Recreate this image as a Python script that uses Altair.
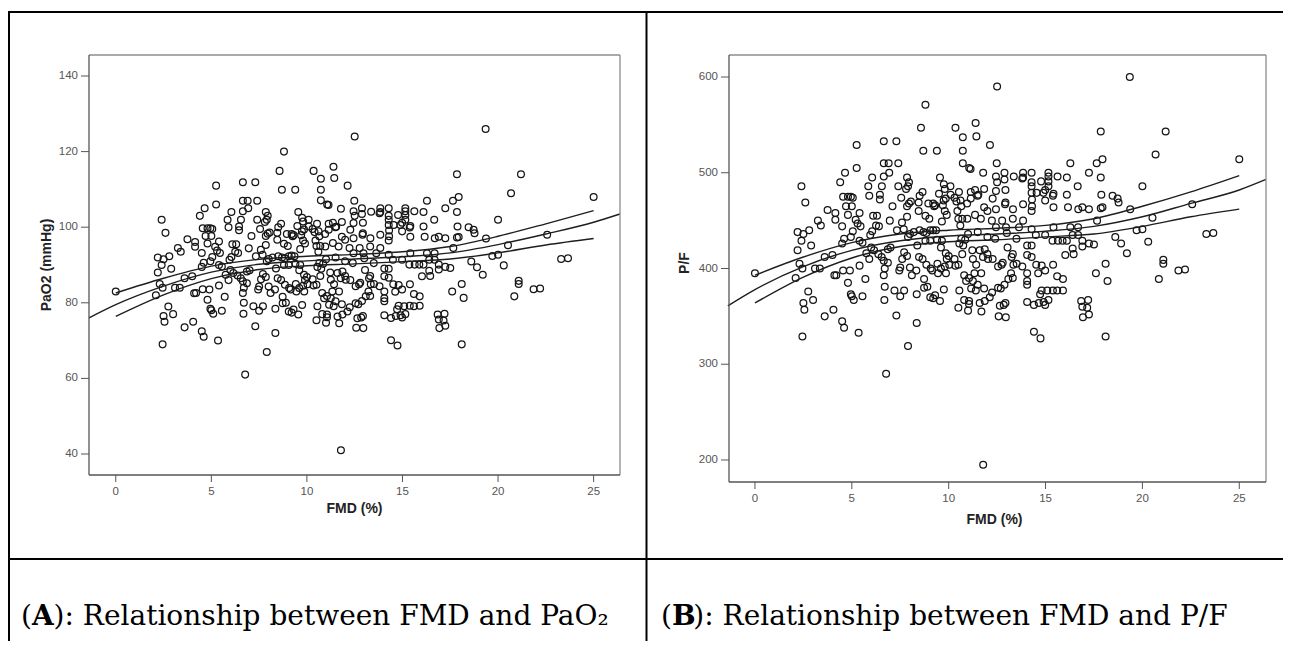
import altair as alt
import pandas as pd

# ---------------- data ----------------
fmd = [
    0.0, 2.4, 2.6, 2.2, 2.5, 2.4, 2.2, 2.9, 2.8, 3.25,
    3.4, 2.1, 2.3, 2.45, 3.1, 3.35, 2.75, 2.5, 3.0, 2.55,
    2.45, 3.6, 4.0, 3.6, 4.05, 4.5, 4.6, 5.35, 3.75, 4.15,
    4.15, 4.4, 4.65, 4.55, 4.8, 4.95, 5.05, 4.7, 5.0, 4.8,
    5.4, 5.2, 5.3, 4.5, 5.05, 4.6, 4.95, 4.5, 5.45, 5.4,
    5.55, 5.25, 5.25, 4.1, 4.2, 4.55, 4.9, 5.4, 4.95, 5.0,
    5.1, 5.55, 4.8, 5.7, 5.75, 6.0, 5.9, 5.85, 6.05, 5.9,
    6.45, 6.45, 6.65, 7.3, 6.65, 6.9, 7.4, 6.93, 6.65, 6.55,
    7.4, 7.55, 7.85, 7.1, 7.85, 5.95, 6.05, 6.1, 6.3, 6.25,
    6.4, 6.96, 6.15, 6.37, 6.54, 6.86, 7.0, 6.65, 6.7, 6.65,
    6.7, 6.68, 6.86, 6.77, 7.3, 7.5, 7.7, 7.9, 8.35, 8.35,
    7.2, 7.45, 7.5, 7.6, 7.7, 7.85, 8.0, 8.1, 8.33, 7.9,
    8.0, 8.2, 7.85, 7.95, 8.05, 7.8, 7.95, 8.5, 8.45, 8.45,
    8.95, 9.2, 9.25, 9.55, 9.75, 9.8, 9.5, 9.85, 10.1, 10.3,
    10.4, 9.3, 9.7, 9.8, 9.9, 9.65, 9.0, 8.8, 8.5, 8.7,
    8.85, 9.05, 9.2, 9.35, 8.8, 9.05, 9.4, 9.65, 9.6, 9.85,
    10.0, 10.3, 8.65, 8.85, 9.15, 9.45, 9.8, 9.9, 10.35, 10.5,
    10.8, 10.55, 10.8, 10.55, 10.65, 10.75, 10.85, 10.5, 10.7, 10.6,
    10.45, 10.65, 10.95, 8.57, 8.69, 9.39, 8.8, 10.35, 10.73, 10.73,
    10.73, 11.06, 11.39, 11.43, 12.13, 11.13, 11.78, 12.48, 12.5, 9.05,
    9.2, 9.3, 9.55, 9.75, 8.9, 10.5, 11.0, 11.05, 8.38, 8.47,
    8.73, 8.73, 9.07, 9.6, 9.86, 10.03, 9.42, 10.9, 11.16, 11.25,
    11.33, 11.68, 11.5, 11.6, 11.69, 11.86, 12.12, 12.24, 12.55, 12.69,
    12.64, 12.58, 11.78, 11.25, 11.42, 11.6, 11.77, 11.86, 12.03, 12.55,
    12.73, 13.08, 13.22, 13.34, 13.25, 13.51, 13.04, 14.05, 14.05, 14.05,
    14.05, 14.05, 14.05, 14.4, 14.65, 14.9, 14.62, 14.52, 15.09, 15.39,
    15.6, 15.6, 15.9, 14.4, 14.74, 15.36, 15.88, 16.02, 16.4, 16.4,
    16.9, 16.9, 16.84, 16.9, 16.93, 17.2, 17.15, 17.24, 17.6, 18.1,
    18.2, 17.5, 18.6, 18.9, 19.2, 18.1, 19.7, 20.3, 20.85, 21.08,
    21.08, 21.86, 23.3, 17.85, 21.2, 19.35, 20.68, 25.0, 16.28, 17.64,
    17.94, 17.85, 17.24, 16.66, 20.0, 18.46, 18.72, 18.77, 17.88, 17.85,
    19.37, 22.57, 20.52, 20.0, 17.66, 23.66, 17.24, 17.94, 17.24, 22.2,
    7.9, 8.65, 10.09, 10.53, 11.14, 11.49, 12.44, 12.5, 12.88, 12.88,
    13.36, 13.84, 13.84, 14.28, 14.28, 14.77, 15.15, 15.15, 15.62, 16.1,
    9.74, 10.61, 11.14, 11.83, 12.27, 12.44, 12.91, 13.32, 13.84, 14.28,
    14.3, 14.3, 14.54, 14.89, 14.98, 15.41, 15.41, 16.16, 16.69, 16.9,
    10.96, 11.36, 11.66, 12.0, 12.23, 12.44, 12.76, 12.96, 13.31, 13.63,
    13.84, 14.28, 14.5, 14.98, 15.41, 15.64, 16.1, 16.28, 16.68, 16.68,
    11.0, 11.5, 12.0, 12.4, 13.0, 13.5, 14.28, 10.7, 11.22, 12.0,
    12.27, 12.79, 13.31, 13.8, 14.28, 14.28, 14.8, 14.98, 16.45, 11.05,
    11.4, 11.83, 12.88, 12.93, 13.31, 14.8, 14.98, 14.72, 15.15, 15.38,
    15.9, 12.84, 12.95, 11.05, 11.36, 11.53, 11.83, 12.44, 12.93, 12.93,
    14.28, 14.98, 15.15, 15.38, 16.1, 15.15, 13.8, 7.33, 7.59, 7.68,
]

pao2 = [
    83.0, 102.0, 98.5, 92.0, 91.5, 90.0, 88.0, 89.0, 92.3, 94.5,
    93.5, 82.0, 85.0, 84.0, 84.0, 84.0, 79.0, 76.5, 77.0, 75.0,
    69.0, 86.5, 87.0, 73.5, 75.0, 72.5, 71.0, 70.0, 96.8, 96.1,
    94.8, 103.0, 105.0, 99.7, 99.7, 99.7, 99.5, 97.7, 97.7, 95.7,
    96.2, 94.8, 93.8, 93.2, 92.1, 90.6, 91.0, 89.5, 93.2, 90.0,
    89.6, 111.0, 106.0, 82.5, 82.6, 83.6, 83.5, 84.6, 78.4, 78.0,
    77.1, 77.9, 80.8, 81.6, 87.4, 88.7, 86.0, 102.0, 104.0, 100.0,
    99.2, 100.2, 111.9, 111.9, 107.0, 107.0, 107.0, 105.0, 104.2, 102.0,
    102.0, 99.5, 104.0, 97.7, 97.7, 91.4, 92.1, 95.5, 95.5, 93.5,
    93.2, 94.4, 87.9, 87.2, 86.5, 88.3, 88.6, 85.7, 84.0, 82.6,
    80.0, 77.1, 85.2, 61.0, 73.8, 77.9, 79.1, 67.0, 78.4, 72.0,
    79.1, 83.5, 84.3, 86.2, 87.6, 86.8, 84.3, 82.6, 83.5, 91.0,
    91.6, 92.0, 95.3, 98.3, 98.6, 101.4, 103.0, 100.0, 98.5, 96.7,
    98.2, 98.2, 97.6, 104.0, 102.5, 101.5, 100.3, 99.4, 100.2, 99.5,
    98.7, 97.9, 97.9, 96.5, 95.7, 94.2, 95.0, 95.6, 92.3, 92.0,
    91.8, 92.3, 92.5, 92.3, 90.0, 90.0, 90.3, 90.0, 88.6, 87.4,
    86.8, 86.2, 86.0, 84.8, 83.5, 83.0, 84.5, 86.0, 84.6, 84.8,
    82.6, 79.1, 77.0, 89.5, 90.5, 89.0, 90.3, 95.0, 95.0, 93.5,
    96.5, 97.6, 98.2, 114.9, 109.9, 109.9, 120.0, 114.9, 112.8, 109.9,
    107.1, 106.0, 116.0, 113.0, 111.0, 105.9, 104.9, 107.0, 124.0, 77.7,
    77.4, 78.2, 76.9, 79.4, 80.0, 75.4, 74.7, 76.2, 89.1, 86.5,
    81.6, 79.9, 83.9, 83.9, 83.0, 84.9, 85.0, 81.2, 79.5, 81.2,
    83.0, 83.0, 80.4, 76.4, 74.6, 76.9, 77.7, 78.8, 79.9, 79.6,
    75.9, 73.4, 41.0, 86.1, 84.9, 87.9, 86.5, 88.3, 86.1, 84.4,
    84.9, 81.7, 83.0, 84.9, 86.5, 85.0, 88.7, 89.1, 87.0, 83.0,
    81.2, 80.4, 76.7, 76.0, 76.5, 76.7, 82.9, 84.9, 79.1, 84.9,
    82.3, 79.1, 81.7, 70.1, 68.7, 90.1, 90.1, 87.0, 88.5, 91.4,
    90.1, 88.8, 76.9, 75.6, 73.3, 77.1, 75.3, 73.9, 83.0, 85.0,
    81.3, 89.2, 90.9, 89.4, 87.4, 69.0, 92.4, 89.9, 81.7, 85.8,
    85.0, 83.6, 91.6, 114.0, 114.0, 126.0, 109.0, 108.0, 107.0, 107.0,
    108.0, 104.0, 105.0, 102.0, 102.0, 100.0, 99.3, 98.4, 100.2, 97.3,
    97.0, 98.0, 95.2, 92.7, 94.5, 91.8, 97.1, 97.4, 89.5, 83.8,
    102.0, 100.9, 102.0, 100.9, 100.9, 100.0, 104.2, 103.0, 105.0, 103.5,
    104.1, 105.0, 104.0, 105.0, 103.0, 103.2, 105.0, 104.2, 104.2, 104.0,
    98.9, 98.9, 99.3, 97.5, 99.3, 97.1, 98.0, 97.1, 98.0, 100.6,
    99.1, 97.6, 100.6, 100.6, 98.9, 100.3, 97.5, 97.5, 97.1, 97.5,
    94.9, 95.8, 94.9, 96.7, 94.5, 93.1, 94.5, 93.1, 94.9, 93.1,
    94.5, 92.7, 91.4, 91.4, 93.1, 90.1, 90.1, 93.1, 93.1, 91.4,
    91.5, 92.0, 91.0, 90.5, 91.8, 90.5, 96.5, 87.1, 88.0, 87.1,
    86.0, 85.3, 87.1, 84.4, 89.0, 86.6, 84.7, 83.5, 87.1, 81.8,
    79.1, 79.6, 80.5, 76.5, 81.8, 79.2, 76.1, 78.3, 77.0, 79.2,
    79.2, 76.1, 73.3, 76.9, 101.2, 100.1, 101.4, 101.1, 101.2, 98.4,
    102.0, 101.2, 102.0, 99.9, 100.2, 103.2, 103.7, 92.3, 94.0, 92.7,
]

pf = [
    395, 486, 469, 438, 436, 429, 419, 424, 440, 450,
    445, 390, 405, 400, 400, 400, 376, 364, 367, 357,
    329, 412, 414, 350, 357, 345, 338, 333, 461, 458,
    451, 490, 500, 475, 475, 475, 474, 465, 465, 456,
    458, 451, 447, 444, 439, 431, 433, 426, 444, 429,
    427, 529, 505, 393, 393, 398, 398, 403, 373, 371,
    367, 371, 385, 389, 416, 422, 410, 486, 495, 476,
    472, 477, 533, 533, 510, 510, 510, 500, 496, 486,
    486, 474, 495, 465, 465, 435, 439, 455, 455, 445,
    444, 450, 419, 415, 412, 420, 422, 408, 400, 393,
    381, 367, 406, 290, 351, 371, 377, 319, 373, 343,
    377, 398, 401, 410, 417, 413, 401, 393, 398, 433,
    436, 438, 454, 468, 470, 483, 490, 476, 469, 460,
    468, 468, 465, 495, 488, 483, 478, 473, 477, 474,
    470, 466, 466, 460, 456, 449, 452, 455, 440, 438,
    437, 440, 440, 440, 429, 429, 430, 429, 422, 416,
    413, 410, 410, 404, 398, 395, 402, 410, 403, 404,
    393, 377, 367, 426, 431, 424, 430, 452, 452, 445,
    460, 465, 468, 547, 523, 523, 571, 547, 537, 523,
    510, 505, 552, 538, 529, 504, 500, 510, 590, 370,
    369, 372, 366, 378, 381, 359, 356, 363, 424, 412,
    389, 380, 400, 400, 395, 404, 405, 387, 379, 387,
    395, 395, 383, 364, 355, 366, 370, 375, 380, 379,
    361, 350, 195, 410, 404, 419, 412, 420, 410, 402,
    404, 389, 395, 404, 412, 405, 422, 424, 414, 395,
    387, 383, 365, 362, 364, 365, 395, 404, 377, 404,
    392, 377, 389, 334, 327, 429, 429, 414, 421, 435,
    429, 423, 366, 360, 349, 367, 359, 352, 395, 405,
    387, 425, 433, 426, 416, 329, 440, 428, 389, 409,
    405, 398, 436, 543, 543, 600, 519, 514, 510, 510,
    514, 495, 500, 486, 486, 476, 473, 469, 477, 463,
    462, 467, 453, 441, 450, 437, 462, 464, 426, 399,
    486, 480, 486, 480, 480, 476, 496, 490, 500, 493,
    496, 500, 495, 500, 490, 491, 500, 496, 496, 495,
    471, 471, 473, 464, 473, 462, 467, 462, 467, 479,
    472, 465, 479, 479, 471, 478, 464, 464, 462, 464,
    452, 456, 452, 460, 450, 443, 450, 443, 452, 443,
    450, 441, 435, 435, 443, 429, 429, 443, 443, 435,
    436, 438, 433, 431, 437, 431, 460, 415, 419, 415,
    410, 406, 415, 402, 424, 412, 403, 398, 415, 390,
    377, 379, 383, 364, 390, 377, 362, 373, 367, 377,
    377, 362, 349, 366, 482, 477, 483, 481, 482, 469,
    486, 482, 486, 476, 477, 491, 494, 440, 448, 441,
]

# fitted cubic curve and its 95% confidence limits
fit_x = [-1.4, 0, 2.5, 5, 7.5, 10, 12.5, 15, 17.5, 20, 22.5, 25, 26.38]
fit_a = [76.0, 79.5, 84.4, 88.1, 90.2, 91.1, 91.6, 92.2, 93.2, 95.4, 98.2, 101.3, 103.5]
fit_b = [361, 378, 402, 419, 429, 434, 436, 439, 444, 454, 468, 482, 493]
ci_x = [0, 2.5, 5, 7.5, 10, 12.5, 15, 17.5, 20, 22.5, 25]
ci_a_hi = [82.6, 86.5, 89.7, 91.5, 92.3, 92.8, 93.5, 94.9, 97.6, 100.9, 104.4]
ci_a_lo = [76.4, 82.1, 86.4, 88.8, 89.8, 90.3, 90.9, 91.6, 93.2, 95.3, 97.0]
ci_b_hi = [393, 412, 427, 436, 440, 442, 445, 452, 465, 480, 497]
ci_b_lo = [364, 391, 411, 423, 428, 430, 433, 436, 444, 454, 462]

x_ticks = [0, 5, 10, 15, 20, 25]
ya_ticks = [40, 60, 80, 100, 120, 140]
yb_ticks = [200, 300, 400, 500, 600]

caption_a = "): Relationship between FMD and PaO\u2082"
caption_b = "): Relationship between FMD and P/F"

# ---------------- chart ----------------
W, H = 1275, 633
pts = pd.DataFrame({"fmd": fmd, "pao2": pao2, "pf": pf})


def curve_frame(ycol, fit, hi, lo):
    return pd.DataFrame({
        "fmd": fit_x + ci_x + ci_x,
        ycol: fit + hi + lo,
        "series": ["fit"] * len(fit_x) + ["hi"] * len(ci_x) + ["lo"] * len(ci_x),
    })


curve_a = curve_frame("pao2", fit_a, ci_a_hi, ci_a_lo)
curve_b = curve_frame("pf", fit_b, ci_b_hi, ci_b_lo)
one = pd.DataFrame({"k": [0]})

LABEL_FONT = "Liberation Sans"
AXIS_COL = "#555"
FRAME_COL = "#8c8c8c"


def hrule(y, x1, x2, color="black", w=2.0):
    return alt.Chart(one).mark_rule(color=color, strokeWidth=w).encode(
        x=alt.value(x1), x2=alt.value(x2), y=alt.value(y))


def vrule(x, y1, y2, color="black", w=2.0):
    return alt.Chart(one).mark_rule(color=color, strokeWidth=w).encode(
        x=alt.value(x), y=alt.value(y1), y2=alt.value(y2))


def ptext(t, x, y, size=28, bold=False, font="DejaVu Serif", angle=0, align="left",
          baseline="alphabetic", color="black"):
    return alt.Chart(one).mark_text(
        text=t, font=font, fontSize=size, align=align, baseline=baseline, angle=angle,
        fontWeight="bold" if bold else "normal", color=color
    ).encode(x=alt.value(x), y=alt.value(y))


def panel(ycol, xdom, xr, ydom, yr, yticks, ytitle, ytitle_pos, xtitle_pos, curves):
    xs = alt.Scale(domain=xdom, range=xr, nice=False, zero=False)
    ys = alt.Scale(domain=ydom, range=yr, nice=False, zero=False)
    left, right = xr
    bottom, top = yr

    points = alt.Chart(pts).mark_point(
        shape="circle", filled=False, size=46, strokeWidth=1.25, color="#151515", opacity=1
    ).encode(
        x=alt.X("fmd:Q", scale=xs, axis=None),
        y=alt.Y(f"{ycol}:Q", scale=ys, axis=None),
    )
    lines = alt.Chart(curves).mark_line(
        color="#1e1e1e", strokeWidth=1.4, interpolate="monotone"
    ).encode(
        x=alt.X("fmd:Q", scale=xs, axis=None),
        y=alt.Y(f"{ycol}:Q", scale=ys, axis=None),
        detail="series:N",
    )
    xt = pd.DataFrame({"fmd": x_ticks})
    yt = pd.DataFrame({ycol: yticks})
    x_tick_marks = alt.Chart(xt).mark_rule(color=AXIS_COL, strokeWidth=1).encode(
        x=alt.X("fmd:Q", scale=xs, axis=None), y=alt.value(bottom), y2=alt.value(bottom + 7))
    x_tick_labels = alt.Chart(xt).mark_text(
        font=LABEL_FONT, fontSize=11.5, color=AXIS_COL, baseline="top", align="center"
    ).encode(x=alt.X("fmd:Q", scale=xs, axis=None), y=alt.value(bottom + 11), text="fmd:Q")
    y_tick_marks = alt.Chart(yt).mark_rule(color=AXIS_COL, strokeWidth=1).encode(
        y=alt.Y(f"{ycol}:Q", scale=ys, axis=None), x=alt.value(left - 8), x2=alt.value(left))
    y_tick_labels = alt.Chart(yt).mark_text(
        font=LABEL_FONT, fontSize=11.5, color=AXIS_COL, baseline="middle", align="right"
    ).encode(y=alt.Y(f"{ycol}:Q", scale=ys, axis=None), x=alt.value(left - 11), text=f"{ycol}:Q")

    frame = [
        hrule(top, left, right, FRAME_COL, 1.3), vrule(right, top, bottom, FRAME_COL, 1.3),
        hrule(bottom, left, right, AXIS_COL, 1.3), vrule(left, top, bottom, AXIS_COL, 1.3),
    ]
    titles = [
        ptext(ytitle, ytitle_pos[0], ytitle_pos[1], size=14, bold=True, font=LABEL_FONT,
              angle=270, align="center", baseline="middle", color="#222"),
        ptext("FMD (%)", xtitle_pos[0], xtitle_pos[1], size=14, bold=True, font=LABEL_FONT,
              align="center", baseline="middle", color="#222"),
    ]
    return alt.layer(points, lines, x_tick_marks, x_tick_labels, y_tick_marks,
                     y_tick_labels, *frame, *titles)


panel_a = panel("pao2", [-1.4, 26.38], [81, 612], [34.44, 145.56], [467, 47],
                ya_ticks, "PaO2 (mmHg)", (39, 257), (346.5, 501), curve_a)
panel_b = panel("pf", [-1.34, 26.38], [721, 1258], [177, 623], [474, 47],
                yb_ticks, "P/F", (677, 255), (986.5, 512), curve_b)

decor = [
    # table borders
    hrule(4, 0, W), vrule(1, 4, H), vrule(638.5, 4, H), hrule(551, 0, W),
    # captions
    ptext("(", 13, 617), ptext("A", 23.9, 617, bold=True), ptext(caption_a, 45.6, 617),
    ptext("(", 653, 617), ptext("B", 663.9, 617, bold=True), ptext(caption_b, 685.3, 617),
]

chart = alt.layer(panel_a, panel_b, *decor).resolve_scale(
    x="independent", y="independent"
).properties(
    width=W, height=H, autosize=alt.AutoSizeParams(type="none"), padding=0
).configure_view(stroke=None)

chart.save("out.html", embed_options={"renderer": "svg", "actions": False})
